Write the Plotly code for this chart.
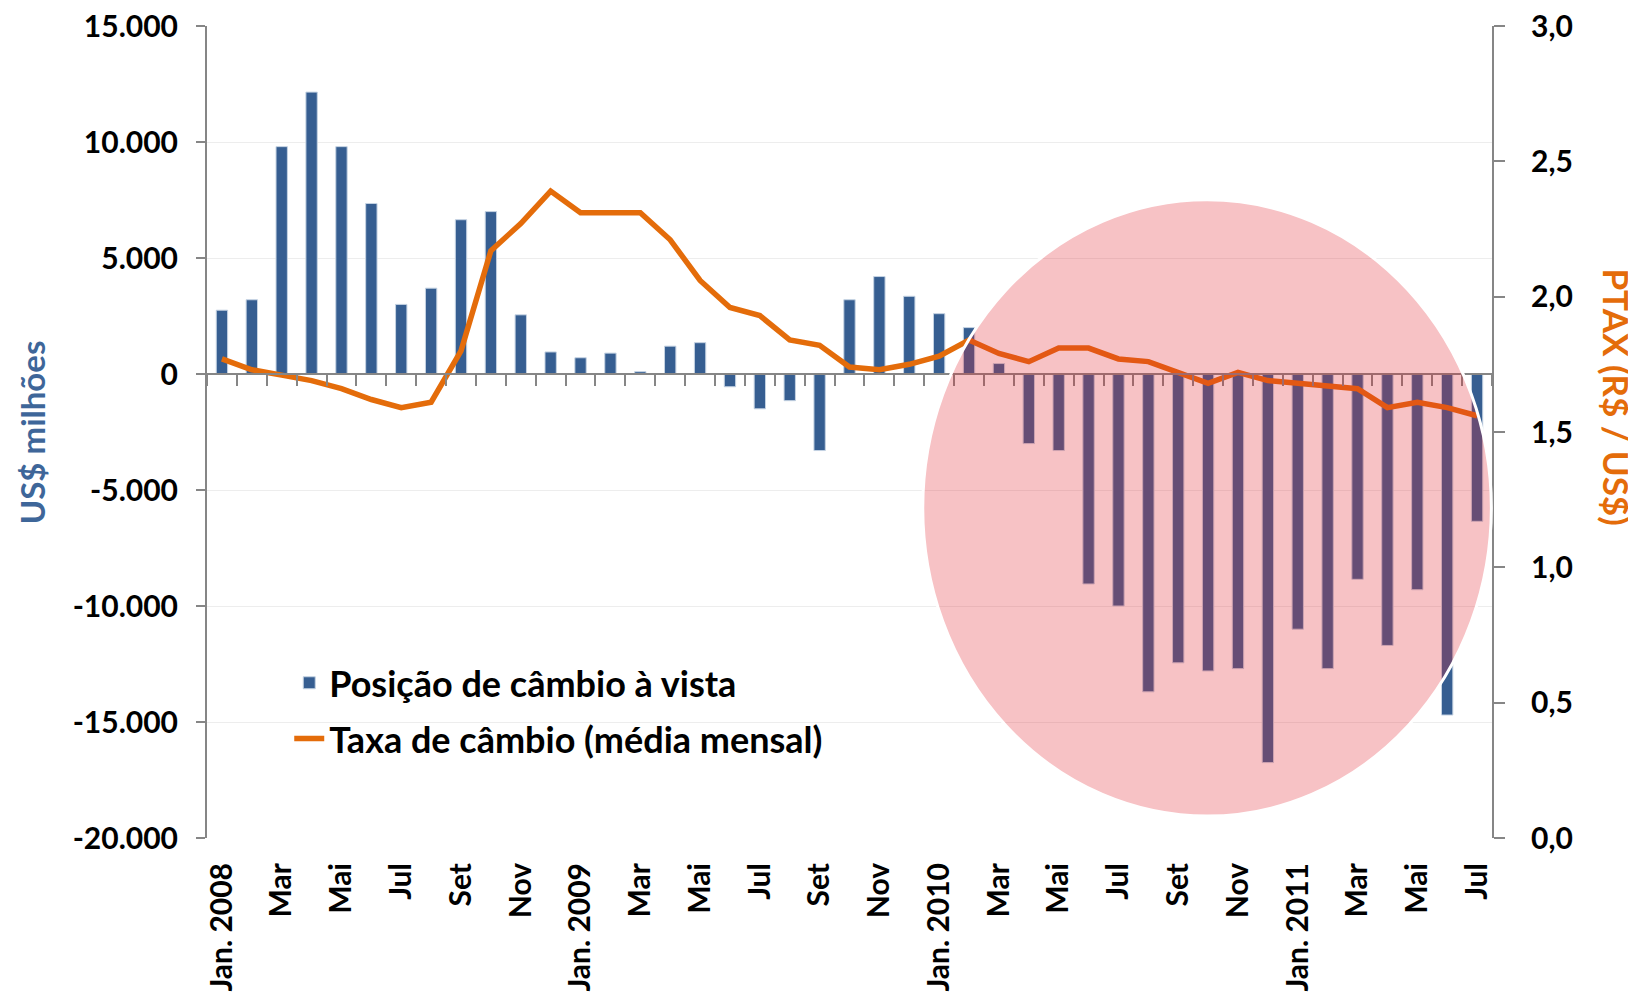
import plotly.graph_objects as go

# monthly categories, Jan 2008 - Jul 2011
months = [f"{y}-{m:02d}" for y in (2008, 2009, 2010, 2011) for m in range(1, 13)][:43]
tick_labels = [
    "Jan. 2008", "Mar", "Mai", "Jul", "Set", "Nov",
    "Jan. 2009", "Mar", "Mai", "Jul", "Set", "Nov",
    "Jan. 2010", "Mar", "Mai", "Jul", "Set", "Nov",
    "Jan. 2011", "Mar", "Mai", "Jul",
]

# Posição de câmbio à vista (US$ milhões)
posicao = [
    2750, 3200, 9800, 12150, 9800, 7350, 3000, 3700, 6650, 7000, 2550, 950,
    700, 900, 100, 1200, 1350, -550, -1500, -1150, -3300, 3200, 4200, 3350,
    2600, 2000, 450, -3000, -3300, -9050, -10000, -13700, -12450, -12800, -12700, -16750,
    -11000, -12700, -8850, -11700, -9300, -14700, -6350,
]

# Taxa de câmbio PTAX, média mensal (R$ / US$)
ptax = [
    1.77, 1.73, 1.71, 1.69, 1.66, 1.62, 1.59, 1.61, 1.80, 2.17, 2.27, 2.39,
    2.31, 2.31, 2.31, 2.21, 2.06, 1.96, 1.93, 1.84, 1.82, 1.74, 1.73, 1.75,
    1.78, 1.84, 1.79, 1.76, 1.81, 1.81, 1.77, 1.76, 1.72, 1.68, 1.72, 1.69,
    1.68, 1.67, 1.66, 1.59, 1.61, 1.59, 1.56,
]

left_ticks = [-20000, -15000, -10000, -5000, 0, 5000, 10000, 15000]
left_ticktext = ["-20.000", "-15.000", "-10.000", "-5.000", "0", "5.000", "10.000", "15.000"]
right_ticks = [0, 0.5, 1.0, 1.5, 2.0, 2.5, 3.0]
right_ticktext = ["0,0", "0,5", "1,0", "1,5", "2,0", "2,5", "3,0"]

BLUE = "#365E91"
ORANGE = "#E46C0A"
AXIS = "#868686"
FONT = "Lato"

fig = go.Figure()
fig.add_trace(
    go.Bar(
        x=months,
        y=posicao,
        name="Posição de câmbio à vista",
        marker=dict(color=BLUE, line=dict(color="#C5D3E3", width=1)),
        legendgroup="a",
    )
)
fig.add_trace(
    go.Scatter(
        x=months,
        y=ptax,
        mode="lines",
        name="Taxa de câmbio (média mensal)",
        line=dict(color=ORANGE, width=5.5),
        xaxis="x2",
        yaxis="y2",
        legendgroup="b",
    )
)

fig.update_layout(
    width=1636,
    height=1003,
    autosize=False,
    margin=dict(l=199, r=152, t=18, b=173, autoexpand=False),
    plot_bgcolor="white",
    paper_bgcolor="white",
    font=dict(family=FONT, size=30, color="black", weight="bold"),
    bargap=0.62,
    showlegend=True,
    legend=dict(
        x=0.064,
        y=0.228,
        xanchor="left",
        yanchor="top",
        bgcolor="rgba(0,0,0,0)",
        font=dict(size=36, family=FONT, weight="bold"),
        tracegroupgap=6,
    ),
    xaxis=dict(
        type="category",
        categoryorder="array",
        categoryarray=months,
        tickvals=months[::2],
        ticktext=tick_labels,
        tickangle=-90,
        showline=False,
        showgrid=False,
        ticks="",
        ticklabelstandoff=18,
        ticklabeloverflow="allow",
        range=[-0.5, 42.5],
        automargin=False,
    ),
    xaxis2=dict(
        type="category",
        categoryorder="array",
        categoryarray=months,
        overlaying="x",
        matches="x",
        anchor="free",
        position=20000 / 35000,
        side="bottom",
        showline=True,
        linecolor=AXIS,
        linewidth=2,
        ticks="outside",
        tickson="boundaries",
        ticklen=11,
        tickwidth=1.5,
        tickcolor=AXIS,
        showticklabels=False,
        showgrid=False,
        automargin=False,
    ),
    yaxis=dict(
        range=[-20000, 15000],
        tickvals=left_ticks,
        ticktext=left_ticktext,
        showline=True,
        linecolor=AXIS,
        linewidth=2,
        ticks="outside",
        ticklen=9,
        tickcolor=AXIS,
        tickwidth=1.5,
        ticklabelstandoff=12,
        ticklabeloverflow="allow",
        showgrid=True,
        gridcolor="#EDEDED",
        gridwidth=1,
        zeroline=False,
        automargin=False,
    ),
    yaxis2=dict(
        range=[0, 3],
        tickvals=right_ticks,
        ticktext=right_ticktext,
        overlaying="y",
        side="right",
        anchor="x2",
        showline=True,
        linecolor=AXIS,
        linewidth=2,
        ticks="outside",
        ticklen=11,
        tickcolor=AXIS,
        tickwidth=1.5,
        ticklabelstandoff=20,
        ticklabeloverflow="allow",
        showgrid=False,
        zeroline=False,
        automargin=False,
    ),
)

# axis titles
fig.add_annotation(
    text="US$ milhões",
    xref="paper", yref="paper",
    x=-0.136, y=0.50,
    xanchor="center", yanchor="middle",
    textangle=-90,
    showarrow=False,
    font=dict(family=FONT, size=33, color="#3E6699", weight="bold"),
)
fig.add_annotation(
    text="PTAX (R$ / US$)",
    xref="paper", yref="paper",
    x=1.097, y=0.543,
    xanchor="center", yanchor="middle",
    textangle=90,
    showarrow=False,
    font=dict(family=FONT, size=35, color=ORANGE, weight="bold"),
)

# hatched red overlay circle on the 2010-2011 period
fig.add_shape(
    type="circle",
    xref="paper", yref="paper",
    x0=0.557, x1=0.9995, y0=0.027, y1=0.786,
    fillcolor="rgba(228,35,45,0.28)",
    line=dict(color="white", width=3),
    layer="above",
)

fig.write_html("out.html")
